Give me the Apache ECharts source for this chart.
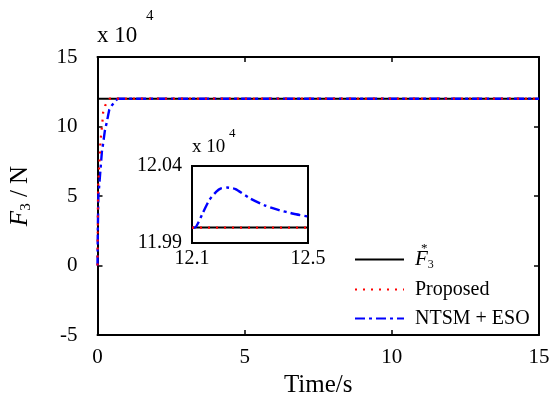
<!DOCTYPE html>
<html>
<head>
<meta charset="utf-8">
<script src="https://cdn.jsdelivr.net/npm/echarts@6/dist/echarts.min.js"></script>
<style>
  html, body { margin: 0; padding: 0; background: #fff; }
  #chart { width: 553px; height: 403px; }
</style>
</head>
<body>
<div id="chart"></div>
<script>
// values in units of 10^4 N
const refT = [0, 15]
const refV = [12, 12]
const propT = [0, 0.01, 0.02, 0.06, 0.1, 0.125, 0.17, 0.19, 0.26, 0.33, 0.41, 15]
const propV = [0, 3, 5.7, 7.3, 8.9, 9.45, 10.4, 11.0, 11.5, 11.8, 12, 12]
const ntsmT = [0, 0.01, 0.03, 0.09, 0.15, 0.2, 0.25, 0.32, 0.37, 0.4, 0.5, 0.6, 0.68, 15]
const ntsmV = [0, 2.5, 5, 6.6, 8.2, 8.9, 9.7, 10.35, 10.9, 11.2, 11.55, 11.8, 12, 12]

// inset (zoom on 12.1 .. 12.5 s)
const zoomRefT = [12.1, 12.5]
const zoomRefV = [12, 12]
const zoomT = [12.1, 12.11, 12.137, 12.16, 12.184, 12.2, 12.22, 12.25, 12.3, 12.35, 12.4, 12.45, 12.5]
const zoomNtsmV = [12.0, 12.0, 12.0094, 12.018, 12.0234, 12.0255, 12.026, 12.025, 12.019, 12.0145, 12.0114, 12.009, 12.0072]

const xTicks = [0, 5, 10, 15]
const yTicks = [-5, 0, 5, 10, 15]
const zoomXTicks = [12.1, 12.5]
const zoomYTicks = [11.99, 12.04]

const names = ['ref', 'Proposed', 'NTSM + ESO']

const font = 'Liberation Serif, Times New Roman, serif'
const pair = (xs, ys) => xs.map((x, i) => [x, ys[i]])

const refStyle = { color: '#000', width: 2, type: 'solid' }
const propStyle = { color: '#ff0000', width: 2.2, type: [2, 6] }
const ntsmStyle = { color: '#0000ff', width: 2.4, type: [10, 4, 3, 4] }

const chart = echarts.init(document.getElementById('chart'))

const mainAxisLine = { show: true, onZero: false, lineStyle: { color: '#000', width: 2 } }
const mainTick = { show: true, inside: true, length: 5, lineStyle: { color: '#000', width: 1.5 } }

chart.setOption({
  backgroundColor: '#fff',
  animation: false,
  grid: [
    { left: 97, right: 14, top: 57, bottom: 65 },
    { left: 192, top: 166, width: 116, height: 77, show: true, backgroundColor: '#fff', borderColor: '#000', borderWidth: 2, z: 5 }
  ],
  legend: {
    orient: 'vertical',
    left: 349,
    top: 244,
    itemWidth: 49,
    itemHeight: 20,
    itemGap: 9,
    data: names,
    itemStyle: { opacity: 0 },
    formatter: (n) => n === 'ref' ? '{f|F}{s|3}' : n,
    textStyle: {
      fontFamily: font,
      fontSize: 20,
      color: '#000',
      padding: [0, 0, 0, 6],
      rich: {
        f: { fontFamily: font, fontSize: 21, fontStyle: 'italic', color: '#000', lineHeight: 22 },
        s: { fontFamily: font, fontSize: 12, color: '#000', lineHeight: 12, verticalAlign: 'bottom' }
      }
    }
  },
  xAxis: [
    {
      gridIndex: 0, type: 'value', min: 0, max: 15, interval: 5,
      axisLine: mainAxisLine, axisTick: mainTick, splitLine: { show: false },
      axisLabel: { color: '#000', fontFamily: font, fontSize: 21, margin: 12, customValues: xTicks },
      name: 'Time/s', nameLocation: 'middle', nameGap: 38,
      nameTextStyle: { color: '#000', fontFamily: font, fontSize: 25 }
    },
    {
      gridIndex: 0, type: 'value', min: 0, max: 15, interval: 5, position: 'top',
      axisLine: mainAxisLine, axisTick: mainTick, splitLine: { show: false }, axisLabel: { show: false }
    },
    {
      gridIndex: 1, type: 'value', min: 12.1, max: 12.5,
      axisLine: { show: false }, axisTick: { show: false }, splitLine: { show: false },
      axisLabel: { color: '#000', fontFamily: font, fontSize: 20, margin: 6, customValues: zoomXTicks, formatter: (v) => v.toFixed(1) }
    }
  ],
  yAxis: [
    {
      gridIndex: 0, type: 'value', min: -5, max: 15, interval: 5,
      axisLine: mainAxisLine, axisTick: mainTick, splitLine: { show: false },
      axisLabel: { color: '#000', fontFamily: font, fontSize: 21, margin: 20, customValues: yTicks },
      name: '{f|F}{s|3}{n| / N}', nameLocation: 'middle', nameGap: 64, nameRotate: 90,
      nameTextStyle: {
        rich: {
          f: { fontFamily: font, fontSize: 25, fontStyle: 'italic', color: '#000', lineHeight: 26 },
          s: { fontFamily: font, fontSize: 15, color: '#000', lineHeight: 15, verticalAlign: 'bottom' },
          n: { fontFamily: font, fontSize: 25, color: '#000', lineHeight: 26 }
        }
      }
    },
    {
      gridIndex: 0, type: 'value', min: -5, max: 15, interval: 5, position: 'right',
      axisLine: mainAxisLine, axisTick: mainTick, splitLine: { show: false }, axisLabel: { show: false }
    },
    {
      gridIndex: 1, type: 'value', min: 11.99, max: 12.04,
      axisLine: { show: false }, axisTick: { show: false }, splitLine: { show: false },
      axisLabel: { color: '#000', fontFamily: font, fontSize: 20, margin: 10, customValues: zoomYTicks, formatter: (v) => v.toFixed(2) }
    }
  ],
  graphic: [
    { type: 'text', left: 97, top: 24, style: { text: 'x 10', fontFamily: font, fontSize: 23, fill: '#000' } },
    { type: 'text', left: 146, top: 9, style: { text: '4', fontFamily: font, fontSize: 15, fill: '#000' } },
    { type: 'text', left: 192, top: 138, style: { text: 'x 10', fontFamily: font, fontSize: 19, fill: '#000' } },
    { type: 'text', left: 229, top: 127, style: { text: '4', fontFamily: font, fontSize: 13, fill: '#000' } },
    { type: 'text', left: 421, top: 242, style: { text: '*', fontFamily: font, fontSize: 13, fill: '#000' } }
  ],
  series: [
    { name: names[0], type: 'line', symbol: 'none', xAxisIndex: 0, yAxisIndex: 0, data: pair(refT, refV), lineStyle: refStyle, itemStyle: { color: '#000' } },
    { name: names[2], type: 'line', symbol: 'none', xAxisIndex: 0, yAxisIndex: 0, data: pair(ntsmT, ntsmV), lineStyle: ntsmStyle, itemStyle: { color: '#0000ff' } },
    { name: names[1], type: 'line', symbol: 'none', xAxisIndex: 0, yAxisIndex: 0, data: pair(propT, propV), lineStyle: propStyle, itemStyle: { color: '#ff0000' } },
    { name: names[0], type: 'line', symbol: 'none', xAxisIndex: 2, yAxisIndex: 2, data: pair(zoomRefT, zoomRefV), lineStyle: refStyle, z: 6 },
    { name: names[2], type: 'line', symbol: 'none', xAxisIndex: 2, yAxisIndex: 2, data: pair(zoomT, zoomNtsmV), smooth: 0.2, lineStyle: ntsmStyle, z: 6 },
    { name: names[1], type: 'line', symbol: 'none', xAxisIndex: 2, yAxisIndex: 2, data: pair(zoomRefT, zoomRefV), lineStyle: propStyle, z: 6 }
  ]
})
</script>
</body>
</html>
